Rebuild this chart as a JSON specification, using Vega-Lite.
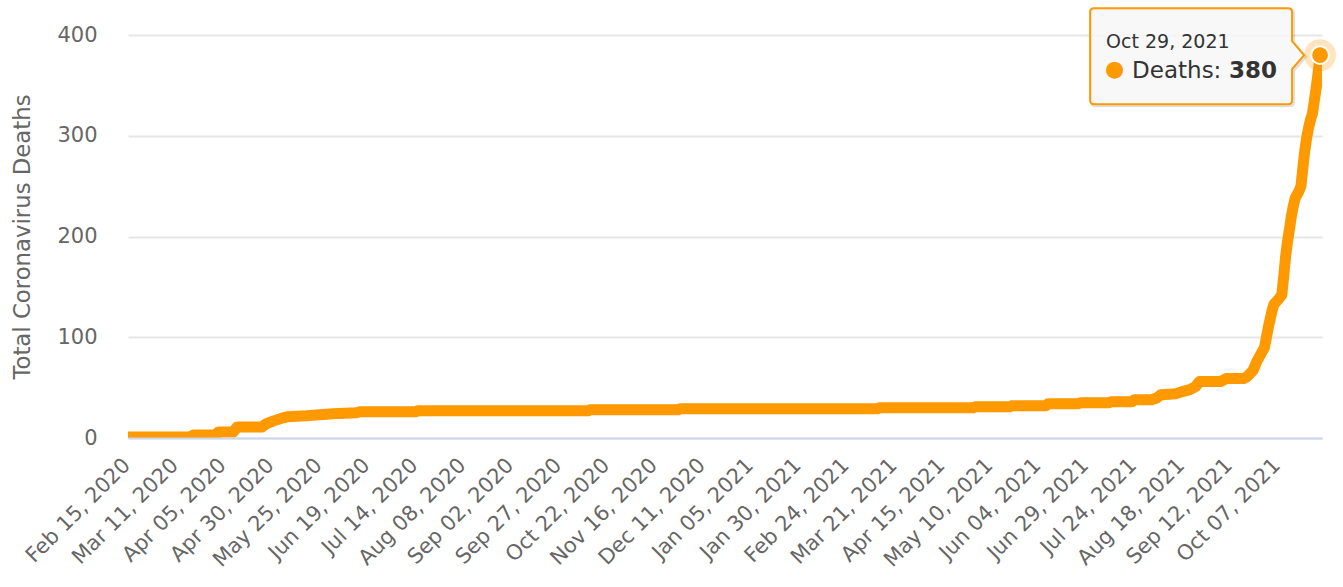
{
  "$schema": "https://vega.github.io/schema/vega-lite/v6.json",
  "width": 1194,
  "height": 403,
  "autosize": {"type": "none"},
  "padding": {"left": 128, "top": 35, "right": 21, "bottom": 149},
  "background": "#ffffff",
  "config": {"view": {"stroke": null}, "font": "DejaVu Sans"},
  "data": {
    "values": [
      {"date": "2020-02-15", "deaths": 1},
      {"date": "2020-03-19", "deaths": 1},
      {"date": "2020-03-20", "deaths": 3},
      {"date": "2020-04-01", "deaths": 3},
      {"date": "2020-04-02", "deaths": 6},
      {"date": "2020-04-10", "deaths": 6},
      {"date": "2020-04-12", "deaths": 11},
      {"date": "2020-04-25", "deaths": 11},
      {"date": "2020-04-27", "deaths": 14},
      {"date": "2020-05-01", "deaths": 17},
      {"date": "2020-05-06", "deaths": 20},
      {"date": "2020-05-08", "deaths": 21},
      {"date": "2020-05-18", "deaths": 22},
      {"date": "2020-06-01", "deaths": 24},
      {"date": "2020-06-13", "deaths": 25},
      {"date": "2020-06-15", "deaths": 26},
      {"date": "2020-07-14", "deaths": 26},
      {"date": "2020-07-15", "deaths": 27},
      {"date": "2020-10-12", "deaths": 27},
      {"date": "2020-10-13", "deaths": 28},
      {"date": "2020-11-28", "deaths": 28},
      {"date": "2020-11-29", "deaths": 29},
      {"date": "2021-03-12", "deaths": 29},
      {"date": "2021-03-13", "deaths": 30},
      {"date": "2021-05-01", "deaths": 30},
      {"date": "2021-05-02", "deaths": 31},
      {"date": "2021-05-20", "deaths": 31},
      {"date": "2021-05-21", "deaths": 32},
      {"date": "2021-06-08", "deaths": 32},
      {"date": "2021-06-09", "deaths": 34},
      {"date": "2021-06-25", "deaths": 34},
      {"date": "2021-06-26", "deaths": 35},
      {"date": "2021-07-11", "deaths": 35},
      {"date": "2021-07-12", "deaths": 36},
      {"date": "2021-07-23", "deaths": 36},
      {"date": "2021-07-24", "deaths": 38},
      {"date": "2021-08-02", "deaths": 38},
      {"date": "2021-08-05", "deaths": 40},
      {"date": "2021-08-07", "deaths": 43},
      {"date": "2021-08-15", "deaths": 44},
      {"date": "2021-08-18", "deaths": 46},
      {"date": "2021-08-22", "deaths": 48},
      {"date": "2021-08-25", "deaths": 51},
      {"date": "2021-08-27", "deaths": 56},
      {"date": "2021-09-07", "deaths": 56},
      {"date": "2021-09-10", "deaths": 59},
      {"date": "2021-09-19", "deaths": 59},
      {"date": "2021-09-21", "deaths": 61},
      {"date": "2021-09-24", "deaths": 67},
      {"date": "2021-09-26", "deaths": 76},
      {"date": "2021-09-28", "deaths": 83},
      {"date": "2021-09-30", "deaths": 90},
      {"date": "2021-10-01", "deaths": 100},
      {"date": "2021-10-02", "deaths": 110},
      {"date": "2021-10-04", "deaths": 127},
      {"date": "2021-10-05", "deaths": 133},
      {"date": "2021-10-07", "deaths": 137},
      {"date": "2021-10-09", "deaths": 142},
      {"date": "2021-10-10", "deaths": 160},
      {"date": "2021-10-11", "deaths": 180},
      {"date": "2021-10-12", "deaths": 195},
      {"date": "2021-10-13", "deaths": 207},
      {"date": "2021-10-14", "deaths": 220},
      {"date": "2021-10-15", "deaths": 230},
      {"date": "2021-10-16", "deaths": 238},
      {"date": "2021-10-18", "deaths": 245},
      {"date": "2021-10-19", "deaths": 250},
      {"date": "2021-10-20", "deaths": 268},
      {"date": "2021-10-21", "deaths": 285},
      {"date": "2021-10-22", "deaths": 298},
      {"date": "2021-10-23", "deaths": 308},
      {"date": "2021-10-24", "deaths": 316},
      {"date": "2021-10-25", "deaths": 322},
      {"date": "2021-10-26", "deaths": 335},
      {"date": "2021-10-27", "deaths": 348},
      {"date": "2021-10-28", "deaths": 363},
      {"date": "2021-10-29", "deaths": 380}
    ]
  },
  "encoding": {
    "x": {
      "field": "date",
      "type": "temporal",
      "scale": {
        "type": "utc",
        "domain": [
          {"year": 2020, "month": 2, "date": 15, "utc": true},
          {"year": 2021, "month": 10, "date": 30, "utc": true}
        ]
      },
      "axis": {
        "title": null,
        "values": [
          {"year": 2020, "month": 2, "date": 15, "utc": true},
          {"year": 2020, "month": 3, "date": 11, "utc": true},
          {"year": 2020, "month": 4, "date": 5, "utc": true},
          {"year": 2020, "month": 4, "date": 30, "utc": true},
          {"year": 2020, "month": 5, "date": 25, "utc": true},
          {"year": 2020, "month": 6, "date": 19, "utc": true},
          {"year": 2020, "month": 7, "date": 14, "utc": true},
          {"year": 2020, "month": 8, "date": 8, "utc": true},
          {"year": 2020, "month": 9, "date": 2, "utc": true},
          {"year": 2020, "month": 9, "date": 27, "utc": true},
          {"year": 2020, "month": 10, "date": 22, "utc": true},
          {"year": 2020, "month": 11, "date": 16, "utc": true},
          {"year": 2020, "month": 12, "date": 11, "utc": true},
          {"year": 2021, "month": 1, "date": 5, "utc": true},
          {"year": 2021, "month": 1, "date": 30, "utc": true},
          {"year": 2021, "month": 2, "date": 24, "utc": true},
          {"year": 2021, "month": 3, "date": 21, "utc": true},
          {"year": 2021, "month": 4, "date": 15, "utc": true},
          {"year": 2021, "month": 5, "date": 10, "utc": true},
          {"year": 2021, "month": 6, "date": 4, "utc": true},
          {"year": 2021, "month": 6, "date": 29, "utc": true},
          {"year": 2021, "month": 7, "date": 24, "utc": true},
          {"year": 2021, "month": 8, "date": 18, "utc": true},
          {"year": 2021, "month": 9, "date": 12, "utc": true},
          {"year": 2021, "month": 10, "date": 7, "utc": true}
        ],
        "labelExpr": "utcFormat(datum.value, '%b %d, %Y')",
        "labelAngle": -45,
        "labelAlign": "right",
        "labelBaseline": "alphabetic",
        "labelPadding": 28,
        "labelOffset": 3,
        "labelFontSize": 21,
        "labelFont": "DejaVu Sans",
        "labelColor": "#666666",
        "labelOverlap": false,
        "labelFlush": false,
        "labelBound": false,
        "ticks": false,
        "grid": false,
        "domainColor": "#ccd6eb",
        "domainWidth": 2,
        "zindex": 1
      }
    },
    "y": {
      "field": "deaths",
      "type": "quantitative",
      "scale": {"domain": [0, 400], "nice": false},
      "axis": {
        "title": "Total Coronavirus Deaths",
        "values": [0, 100, 200, 300, 400],
        "labelFontSize": 21,
        "labelFont": "DejaVu Sans",
        "labelColor": "#666666",
        "labelPadding": 31,
        "ticks": false,
        "domain": false,
        "gridColor": "#e6e6e6",
        "gridWidth": 2,
        "titleFont": "DejaVu Sans",
        "titleFontSize": 22.8,
        "titleFontWeight": "normal",
        "titleColor": "#666666",
        "titlePadding": 22
      }
    }
  },
  "layer": [
    {
      "mark": {"type": "line", "color": "#ff9900", "strokeWidth": 11, "strokeJoin": "round", "strokeCap": "round", "clip": true}
    },
    {
      "transform": [{"filter": "datum.deaths == 380"}],
      "mark": {"type": "point", "shape": "circle", "filled": true, "size": 1018, "color": "#ff9900", "opacity": 0.25}
    },
    {
      "transform": [{"filter": "datum.deaths == 380"}],
      "mark": {"type": "point", "shape": "circle", "filled": true, "size": 314, "fill": "#ff9900", "stroke": "#ffffff", "strokeWidth": 2, "opacity": 1}
    },
    {
      "transform": [{"filter": "datum.deaths == 380"}],
      "mark": {"type": "point", "shape": "M-224.5,-45.5H-30.5Q-26.5,-45.5,-26.5,-41.5V-12.5L-14.5,1.5L-26.5,15.5V46.5Q-26.5,50.5,-30.5,50.5H-224.5Q-228.5,50.5,-228.5,46.5V-41.5Q-228.5,-45.5,-224.5,-45.5Z", "size": 4, "filled": false, "stroke": "#000000", "strokeOpacity": 0.12, "strokeWidth": 3, "opacity": 1}
    },
    {
      "transform": [{"filter": "datum.deaths == 380"}],
      "mark": {"type": "point", "shape": "M-226,-47H-32Q-28,-47,-28,-43V-14L-16,0L-28,14V45Q-28,49,-32,49H-226Q-230,49,-230,45V-43Q-230,-47,-226,-47Z", "size": 4, "filled": true, "fill": "#f7f7f7", "fillOpacity": 0.85, "stroke": "#ff9900", "strokeWidth": 2, "opacity": 1}
    },
    {
      "transform": [{"filter": "datum.deaths == 380"}],
      "mark": {"type": "text", "align": "left", "baseline": "alphabetic", "dx": -214, "dy": -7, "fontSize": 19, "font": "DejaVu Sans", "color": "#333333"},
      "encoding": {"text": {"field": "date", "type": "temporal", "format": "%b %d, %Y", "formatType": "utc"}}
    },
    {
      "transform": [{"filter": "datum.deaths == 380"}],
      "mark": {"type": "text", "align": "left", "baseline": "middle", "dx": -215, "dy": 14, "fontSize": 22, "font": "DejaVu Sans", "color": "#ff9900", "text": "●"}
    },
    {
      "transform": [{"filter": "datum.deaths == 380"}],
      "mark": {"type": "text", "align": "left", "baseline": "alphabetic", "dx": -188, "dy": 23, "fontSize": 23, "font": "DejaVu Sans", "color": "#333333", "text": "Deaths:"}
    },
    {
      "transform": [{"filter": "datum.deaths == 380"}],
      "mark": {"type": "text", "align": "left", "baseline": "alphabetic", "dx": -91, "dy": 23, "fontSize": 23, "font": "DejaVu Sans", "fontWeight": "bold", "color": "#333333"},
      "encoding": {"text": {"field": "deaths", "type": "quantitative"}}
    }
  ]
}
